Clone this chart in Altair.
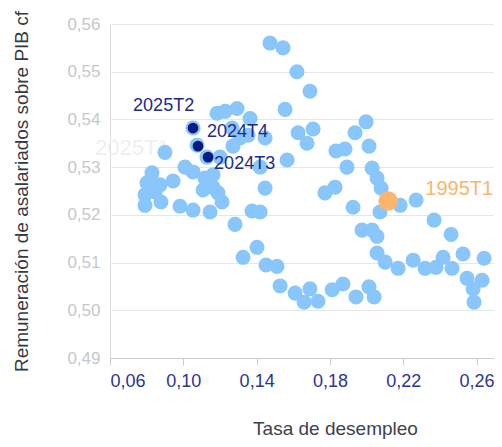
import altair as alt
import pandas as pd

# light-blue quarterly observations (unemployment rate, labour share)
ux = [0.0900, 0.0829, 0.0802, 0.0873, 0.0944, 0.0791, 0.0846, 0.0791, 0.0878, 0.0982, 0.1053,
      0.1053, 0.1075, 0.1129, 0.1009, 0.1053, 0.1118, 0.1162, 0.1108, 0.1162, 0.1189, 0.1146, 0.1211,
      0.1184, 0.1228, 0.1293, 0.1364, 0.1266, 0.1309, 0.1271, 0.1353, 0.1446, 0.1200, 0.1419, 0.1446,
      0.1375, 0.1419, 0.1282, 0.1326, 0.1402, 0.1451, 0.1511, 0.1528,
      0.1473, 0.1544, 0.1620, 0.1691, 0.1555, 0.1626, 0.1708, 0.1675, 0.1566, 0.1773, 0.1828, 0.1833,
      0.1882, 0.1893, 0.1937, 0.1997, 0.2013, 0.2030, 0.2057, 0.2079, 0.1926, 0.2073, 0.2183, 0.2270,
      0.2368, 0.2461, 0.1975, 0.2030, 0.2057, 0.2057, 0.2101, 0.2172, 0.2254, 0.2319, 0.2379, 0.2417,
      0.2466, 0.2526, 0.2641, 0.2548, 0.2630, 0.2581, 0.2586, 0.1610, 0.1659, 0.1691, 0.1735,
      0.1812, 0.1871, 0.1942, 0.2013, 0.2041]
uy = [0.5331, 0.5288, 0.5267, 0.5263, 0.5271, 0.5242, 0.5248, 0.5220, 0.5227, 0.5218, 0.5210,
      0.5382, 0.5346, 0.5321, 0.5300, 0.5290, 0.5277, 0.5284, 0.5252, 0.5258, 0.5246, 0.5206, 0.5227,
      0.5413, 0.5417, 0.5423, 0.5402, 0.5382, 0.5361, 0.5344, 0.5367, 0.5361, 0.5321, 0.5300, 0.5256,
      0.5208, 0.5206, 0.5180, 0.5111, 0.5132, 0.5095, 0.5092, 0.5051,
      0.5560, 0.5550, 0.5500, 0.5459, 0.5421, 0.5372, 0.5380, 0.5350, 0.5315, 0.5246, 0.5258, 0.5334,
      0.5338, 0.5300, 0.5372, 0.5395, 0.5344, 0.5298, 0.5277, 0.5256, 0.5216, 0.5206, 0.5220, 0.5231,
      0.5189, 0.5159, 0.5168, 0.5168, 0.5155, 0.5120, 0.5101, 0.5088, 0.5105, 0.5088, 0.5090, 0.5111,
      0.5088, 0.5118, 0.5109, 0.5067, 0.5063, 0.5045, 0.5017, 0.5036, 0.5017, 0.5045, 0.5019,
      0.5043, 0.5055, 0.5028, 0.5049, 0.5028]

# highlighted recent quarters
hx = [0.1053, 0.1080, 0.1135]
hy = [0.5382, 0.5344, 0.5321]
h_text = ["2025T2", "2024T4", "2024T3"]
h_lx = [0.0726, 0.1129, 0.1168]
h_ly = [0.5428, 0.5374, 0.5306]

# first quarter
ox = [0.2117]
oy = [0.5229]
o_text = ["1995T1"]
o_lx = [0.2320]
o_ly = [0.5254]

# faded label
f_text = ["2025T1"]
f_lx = [0.0518]
f_ly = [0.5340]

xticks = [0.06, 0.10, 0.14, 0.18, 0.22, 0.26]
yticks = [0.49, 0.50, 0.51, 0.52, 0.53, 0.54, 0.55, 0.56]

FONT = "Liberation Sans"
fmt = "replace(format(datum.value, '.2f'), '.', ',')"

xs = alt.Scale(domain=[0.06, 0.2695], nice=False, zero=False)
ys = alt.Scale(domain=[0.49, 0.56], nice=False, zero=False)

pts = pd.DataFrame({"x": ux, "y": uy})
hl = pd.DataFrame({"x": hx, "y": hy})
hlab = pd.DataFrame({"x": h_lx, "y": h_ly, "t": h_text})
org = pd.DataFrame({"x": ox, "y": oy})
olab = pd.DataFrame({"x": o_lx, "y": o_ly, "t": o_text})
flab = pd.DataFrame({"x": f_lx, "y": f_ly, "t": f_text})

xax = alt.Axis(values=xticks, labelExpr=fmt, grid=False, domain=True,
               domainColor="#c9cdd3", tickColor="#c9cdd3", tickSize=7,
               labelColor="#2b3694", labelFontSize=18, labelFont=FONT, labelPadding=7,
               title="Tasa de desempleo", titleFont=FONT, titleFontSize=19,
               titleColor="#3b4252", titleFontWeight="normal", titleX=225, titleY=70,
               titleBaseline="middle")
yax = alt.Axis(values=yticks, labelExpr=fmt, grid=True, gridColor="#e3e6ea",
               domain=False, ticks=False, tickSize=0,
               labelColor="#c4c8ce", labelFontSize=17, labelFont=FONT, labelPadding=10,
               title="Remuneración de asalariados sobre PIB cf", titleFont=FONT,
               titleFontSize=19, titleColor="#333a44", titleFontWeight="normal",
               titlePadding=35)

faded = alt.Chart(flab).mark_text(align="left", baseline="middle", fontSize=22,
                                  font=FONT, color="#eef0f3").encode(
    x=alt.X("x:Q", scale=xs, axis=xax), y=alt.Y("y:Q", scale=ys, axis=yax), text="t:N")

light = alt.Chart(pts).mark_circle(size=227, opacity=1, color="#88c6fb").encode(
    x=alt.X("x:Q", scale=xs), y=alt.Y("y:Q", scale=ys))

dark = alt.Chart(hl).mark_circle(size=115, opacity=1, color="#0a1a80").encode(
    x=alt.X("x:Q", scale=xs), y=alt.Y("y:Q", scale=ys))

orange = alt.Chart(org).mark_circle(size=380, opacity=1, color="#fdb46c").encode(
    x=alt.X("x:Q", scale=xs), y=alt.Y("y:Q", scale=ys))

hlabels = alt.Chart(hlab).mark_text(align="left", baseline="middle", fontSize=18,
                                    font=FONT, color="#1c2a8c").encode(
    x=alt.X("x:Q", scale=xs), y=alt.Y("y:Q", scale=ys), text="t:N")

olabels = alt.Chart(olab).mark_text(align="left", baseline="middle", fontSize=20,
                                    font=FONT, color="#fdb46c").encode(
    x=alt.X("x:Q", scale=xs), y=alt.Y("y:Q", scale=ys), text="t:N")

chart = alt.layer(faded, light, dark, orange, hlabels, olabels).properties(
    width=384, height=334,
    autosize=alt.AutoSizeParams(type="none"),
    padding={"left": 102, "top": 16, "right": 0, "bottom": 81},
).configure_view(stroke=None).configure(background="white")

chart.save("out.html", embed_options={"renderer": "svg", "actions": False})
